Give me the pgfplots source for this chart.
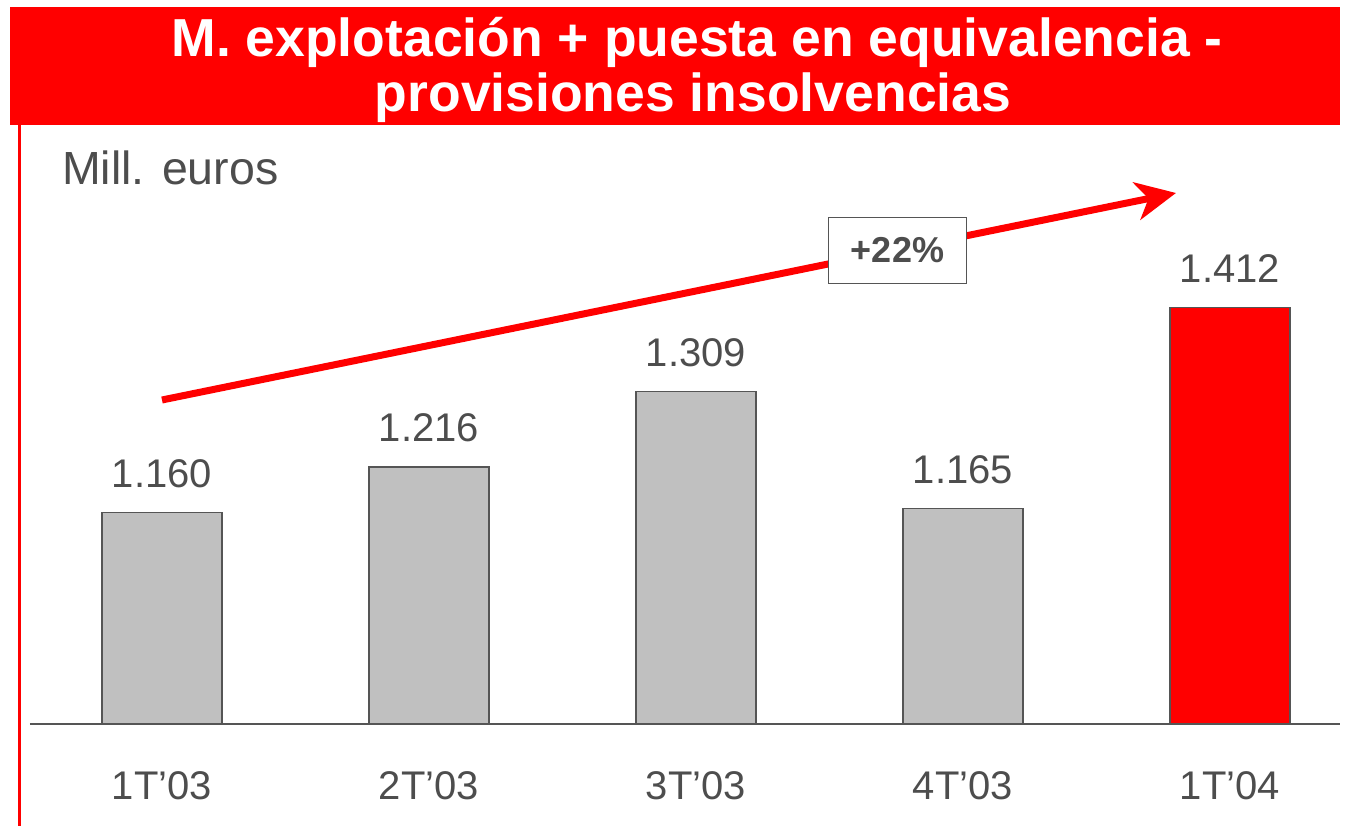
\documentclass[border=0pt]{standalone}
\usepackage{pgfplots}
\pgfplotsset{compat=1.18}
\usepackage{fontspec}
\setmainfont{Liberation Sans}
\usetikzlibrary{arrows.meta}
\definecolor{brand}{HTML}{FF0000}
\definecolor{barfill}{HTML}{C0C0C0}
\definecolor{txt}{HTML}{4D4D4D}
\definecolor{edge}{HTML}{555555}
\begin{document}
\begin{tikzpicture}[x=1pt,y=1pt]
\useasboundingbox (0,0) rectangle (1353,826);
% title banner
\fill[brand] (10,701) rectangle (1340,819);
\node[anchor=base,text=white,font=\bfseries\fontsize{53.5}{54}\selectfont,inner sep=0pt] at (697,769) {M. explotación + puesta en equivalencia -};
\node[anchor=base,text=white,font=\bfseries\fontsize{53.5}{54}\selectfont,inner sep=0pt] at (693,714) {provisiones insolvencias};
% left red rule
\draw[brand,line width=2.5pt] (19.5,0) -- (19.5,701);
% unit label
\node[anchor=base west,text=txt,font=\fontsize{46.5}{50}\selectfont,inner sep=0pt] at (62,641) {Mill. euros};
\begin{axis}[
  at={(30pt,102pt)}, anchor=south west,
  scale only axis, width=1310pt, height=594pt,
  xmin=-0.4944, xmax=4.412, ymin=900, ymax=1630.2,
  axis x line=bottom, axis y line=none,
  x axis line style={draw=edge, line width=2pt, -},
  ybar, bar width=120pt,
  xtick={0,1,2,3,4},
  xticklabels={1T’03,2T’03,3T’03,4T’03,1T’04},
  major tick length=0pt,
  xticklabel style={anchor=base, yshift=-76pt, text=txt, font=\fontsize{40}{48}\selectfont},
  ytick=\empty,
  nodes near coords,
  point meta=explicit symbolic,
  every node near coord/.append style={anchor=base, yshift=25pt, text=txt, font=\fontsize{40}{48}\selectfont, inner sep=0pt},
  clip=false,
]
\addplot[bar shift=0pt, fill=barfill, draw=edge, line width=1.5pt] coordinates {
  (0,1160) [1.160]
  (1,1216) [1.216]
  (2,1309) [1.309]
  (3,1165) [1.165]
};
\addplot[bar shift=0pt, fill=brand, draw=edge, line width=1.5pt] coordinates {
  (4,1412) [1.412]
};
\end{axis}
% growth arrow
\draw[brand, line width=7pt, -{Stealth[length=40pt,width=38pt,inset=12pt]}] (162,426) -- (1176,633);
\node[draw=edge, line width=1.5pt, fill=white, minimum width=138pt, minimum height=66pt, text=txt, font=\bfseries\fontsize{36}{40}\selectfont] at (897.5,575.5) {+22\%};
\end{tikzpicture}
\end{document}
